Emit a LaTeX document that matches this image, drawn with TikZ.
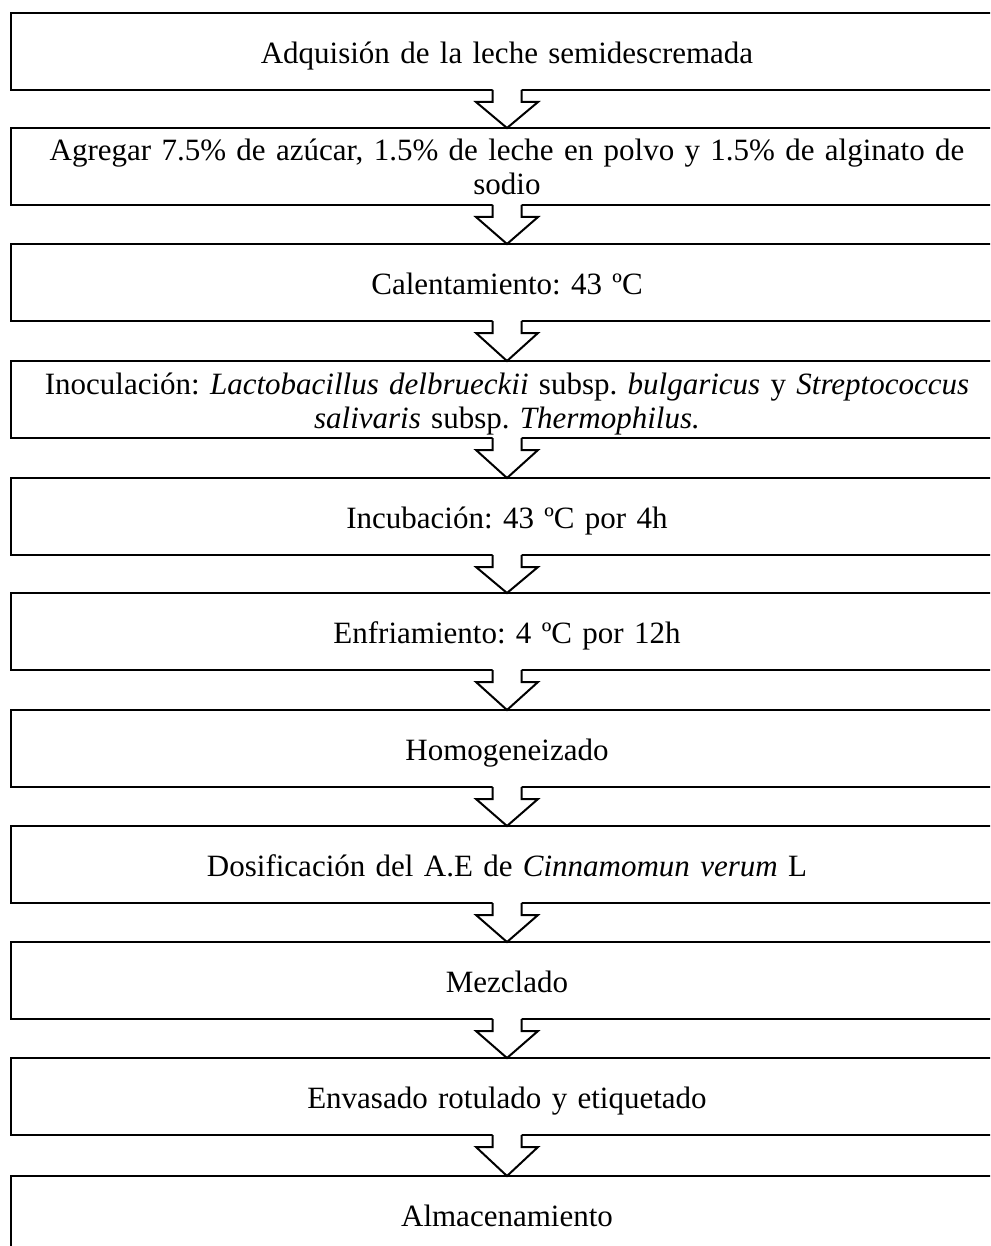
\documentclass[tikz,border=0pt]{standalone}
\usepackage{fontspec}
\setmainfont{Liberation Serif}
\usetikzlibrary{calc}
\newcommand{\stepdown}[2]{%
  \fill[white] ($(#1.south)+(-14.5,-1.5)$) -- ($(#1.south)+(-14.5,12)$) -- ($(#1.south)+(-31,12)$) -- (#2.north) -- ($(#1.south)+(31,12)$) -- ($(#1.south)+(14.5,12)$) -- ($(#1.south)+(14.5,-1.5)$) -- cycle;
  \draw[arrowline] ($(#1.south)+(-14.5,0)$) -- ($(#1.south)+(-14.5,12)$) -- ($(#1.south)+(-31,12)$) -- (#2.north) -- ($(#1.south)+(31,12)$) -- ($(#1.south)+(14.5,12)$) -- ($(#1.south)+(14.5,0)$);}
\begin{document}
\begin{tikzpicture}[x=0.5pt,y=-0.5pt,
  stepbox/.style={draw, line width=1pt, outer sep=0pt, minimum width=496pt, minimum height=38.5pt, inner sep=0pt, text width=494pt, align=center, anchor=north, font=\fontsize{15.5}{17}\selectfont\frenchspacing, text height=12.8pt, text depth=1pt},
  twoline/.style={text height=10pt, text depth=15.5pt},
  arrowline/.style={draw, line width=1pt, line join=miter}]
\useasboundingbox (0,0) rectangle (990,1246);
\fill[white] (0,0) rectangle (990,1246);
\clip (0,0) rectangle (990,1246);
\node[stepbox] (s1) at (507,13) {Adquisión de la leche semidescremada};
\node[stepbox, twoline] (s2) at (507,128) {Agregar 7.5\% de azúcar, 1.5\% de leche en polvo y 1.5\% de alginato de\\sodio};
\node[stepbox] (s3) at (507,244) {Calentamiento: 43 ºC};
\node[stepbox, twoline] (s4) at (507,361) {Inoculación: \textit{Lactobacillus delbrueckii} subsp. \textit{bulgaricus} y \textit{Streptococcus}\\\textit{salivaris} subsp. \textit{Thermophilus.}};
\node[stepbox] (s5) at (507,478) {Incubación: 43 ºC por 4h};
\node[stepbox] (s6) at (507,593) {Enfriamiento: 4 ºC por 12h};
\node[stepbox] (s7) at (507,710) {Homogeneizado};
\node[stepbox] (s8) at (507,826) {Dosificación del A.E de \textit{Cinnamomun verum} L};
\node[stepbox] (s9) at (507,942) {Mezclado};
\node[stepbox] (s10) at (507,1058) {Envasado rotulado y etiquetado};
\node[stepbox] (s11) at (507,1176) {Almacenamiento};
\stepdown{s1}{s2}
\stepdown{s2}{s3}
\stepdown{s3}{s4}
\stepdown{s4}{s5}
\stepdown{s5}{s6}
\stepdown{s6}{s7}
\stepdown{s7}{s8}
\stepdown{s8}{s9}
\stepdown{s9}{s10}
\stepdown{s10}{s11}
\end{tikzpicture}
\end{document}
